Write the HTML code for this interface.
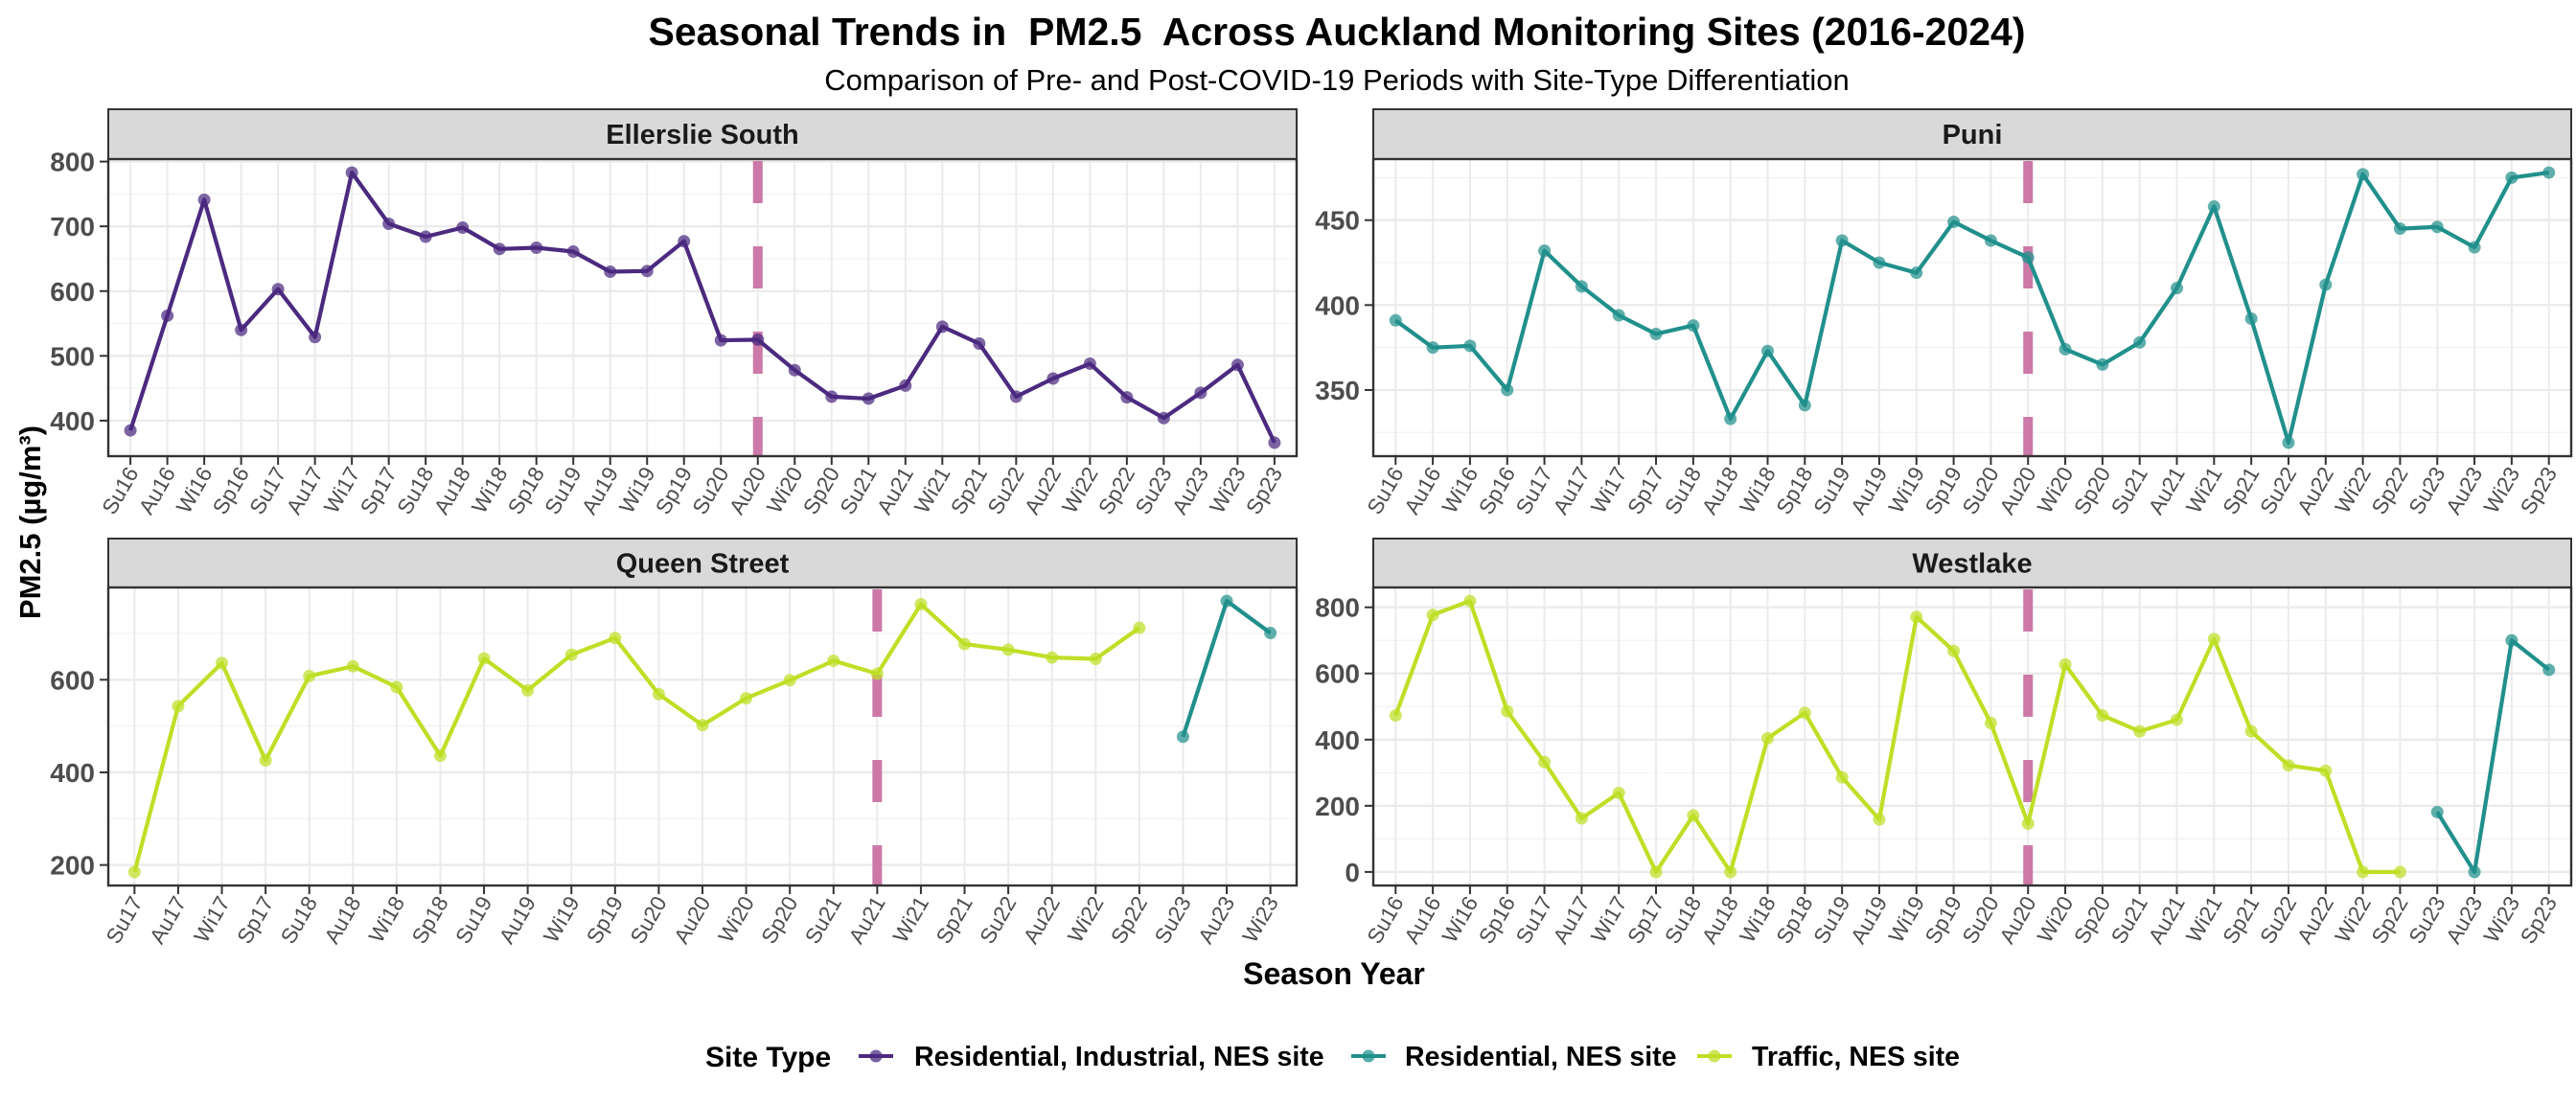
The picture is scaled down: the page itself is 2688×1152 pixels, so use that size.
<!DOCTYPE html>
<html><head><meta charset="utf-8"><style>
html,body{margin:0;padding:0;background:#fff;}
svg{display:block;font-family:"Liberation Sans",Arial,sans-serif;}
</style></head>
<body>
<svg id="chart" width="2688" height="1152" viewBox="0 0 2688 1152" xmlns="http://www.w3.org/2000/svg">
<text x="1395" y="47" text-anchor="middle" font-size="41" font-weight="bold" fill="#000" style="white-space:pre" xml:space="preserve">Seasonal Trends in  PM2.5  Across Auckland Monitoring Sites (2016-2024)</text>
<text x="1395" y="94" text-anchor="middle" font-size="31" fill="#000">Comparison of Pre- and Post-COVID-19 Periods with Site-Type Differentiation</text>
<text transform="translate(42,545) rotate(-90)" text-anchor="middle" font-size="31" font-weight="bold" fill="#000">PM2.5 (µg/m³)</text>
<text x="1392" y="1027" text-anchor="middle" font-size="32" font-weight="bold" fill="#000">Season Year</text>
<g id="legend">
<text x="736" y="1113" font-size="30" font-weight="bold" fill="#000">Site Type</text>
<g>
<line x1="896" y1="1102" x2="932" y2="1102" stroke="#4B2A7F" stroke-width="4"/><circle cx="914" cy="1102" r="6.5" fill="#4B2A7F" opacity="0.75"/>
<text x="954" y="1112" font-size="28.5" font-weight="bold" fill="#000">Residential, Industrial, NES site</text></g>
<g>
<line x1="1410" y1="1102" x2="1446" y2="1102" stroke="#21908C" stroke-width="4"/><circle cx="1428" cy="1102" r="6.5" fill="#21908C" opacity="0.75"/>
<text x="1466" y="1112" font-size="28.5" font-weight="bold" fill="#000">Residential, NES site</text></g>
<g>
<line x1="1771" y1="1102" x2="1807" y2="1102" stroke="#BEDF26" stroke-width="4"/><circle cx="1789" cy="1102" r="6.5" fill="#BEDF26" opacity="0.75"/>
<text x="1828" y="1112" font-size="28.5" font-weight="bold" fill="#000">Traffic, NES site</text></g>
</g>
</svg>
<script>
const seasonsFull = ["Su16","Au16","Wi16","Sp16","Su17","Au17","Wi17","Sp17","Su18","Au18","Wi18","Sp18","Su19","Au19","Wi19","Sp19","Su20","Au20","Wi20","Sp20","Su21","Au21","Wi21","Sp21","Su22","Au22","Wi22","Sp22","Su23","Au23","Wi23","Sp23"];
const seasonsQueen = ["Su17","Au17","Wi17","Sp17","Su18","Au18","Wi18","Sp18","Su19","Au19","Wi19","Sp19","Su20","Au20","Wi20","Sp20","Su21","Au21","Wi21","Sp21","Su22","Au22","Wi22","Sp22","Su23","Au23","Wi23"];
const ellerslieValues = [385,562,741,540,603,529,783,704,684,698,665,667,661,630,631,677,524,525,478,437,434,454,545,519,437,465,488,436,404,443,486,366];
const puniValues = [391,375,376,350,432,411,394,383,388,333,373,341,438,425,419,449,438,428,374,365,378,410,458,392,319,412,477,445,446,434,475,478];
const queenTrafficValues = [185,543,636,426,608,629,584,436,646,577,654,690,569,502,560,599,641,613,763,677,665,648,645,712,null,null,null];
const queenResidentialValues = [null,null,null,null,null,null,null,null,null,null,null,null,null,null,null,null,null,null,null,null,null,null,null,null,477,770,701];
const westlakeTrafficValues = [473,777,819,486,332,162,239,0,171,0,404,481,286,159,771,668,450,146,627,473,425,460,704,425,322,306,0,0,null,null,null,null];
const westlakeResidentialValues = [null,null,null,null,null,null,null,null,null,null,null,null,null,null,null,null,null,null,null,null,null,null,null,null,null,null,null,null,181,0,700,611];
const ellerslieTicks = [400,500,600,700,800];
const puniTicks = [350,400,450];
const queenTicks = [200,400,600];
const westlakeTicks = [0,200,400,600,800];
const covidMarkers = ["Au20","Au20","Au21","Au20"];

const NS = "http://www.w3.org/2000/svg";
const svg = document.getElementById("chart");
const COL = {ri:"#4B2A7F", r:"#21908C", t:"#BEDF26"};
function mk(tag, attrs, parent){
  const e = document.createElementNS(NS, tag);
  for (const k in attrs) e.setAttribute(k, attrs[k]);
  (parent||svg).appendChild(e);
  return e;
}
function panel(cfg){
  const g = mk("g", {});
  
  
  const L=cfg.x0, R=cfg.x1, T=cfg.top, B=cfg.bottom;
  const all = [];
  cfg.series.forEach(s=>s.values.forEach(v=>{ if(v!==null) all.push(v); }));
  const mn=Math.min(...all), mx=Math.max(...all), pad=(mx-mn)*0.05;
  const lo=mn-pad, hi=mx+pad;
  const n=cfg.cats.length;
  const padX=(R-L)/(n-1+1.2)*0.6;
  const xs=i=>L+padX+i*(R-L-2*padX)/(n-1);
  const ys=v=>B-(v-lo)/(hi-lo)*(B-T);
  const strip = mk("rect",{x:L,y:cfg.stripTop,width:R-L,height:T-cfg.stripTop,fill:"#D9D9D9",stroke:"#333",'stroke-width':2},g);
  
  
  const st = mk("text",{x:(L+R)/2,y:(cfg.stripTop+T)/2+10,'text-anchor':'middle','font-size':29,'font-weight':'bold',fill:'#1A1A1A'},g);
  st.textContent = cfg.title;
  
  
  mk("rect",{x:L,y:T,width:R-L,height:B-T,fill:"#fff"},g);
  const step = cfg.ticks[1]-cfg.ticks[0];
  for (let v=cfg.ticks[0]-step/2; v<=hi; v+=step){ if(v>=lo) mk("line",{x1:L,x2:R,y1:ys(v),y2:ys(v),stroke:"#F2F2F2",'stroke-width':1.2},g); }
  for (let i=0;i<n;i++){ mk("line",{x1:xs(i),x2:xs(i),y1:T,y2:B,stroke:"#EBEBEB",'stroke-width':2},g); }
  cfg.ticks.forEach(v=>{
    mk("line",{x1:L,x2:R,y1:ys(v),y2:ys(v),stroke:"#EBEBEB",'stroke-width':2.4},g);
    mk("line",{x1:L-9,x2:L,y1:ys(v),y2:ys(v),stroke:"#333",'stroke-width':2},g);
    const t=mk("text",{x:L-14,y:ys(v)+10,'text-anchor':'end','font-size':28,'font-weight':'bold',fill:'#4D4D4D'},g);
    t.textContent=v;
    
    
  });
  cfg.cats.forEach((c,i)=>{
    mk("line",{x1:xs(i),x2:xs(i),y1:B,y2:B+9,stroke:"#333",'stroke-width':2},g);
    const t=mk("text",{transform:`translate(${xs(i)+9},${B+17}) rotate(-60)`,'text-anchor':'end','font-size':22.5,fill:'#4D4D4D'},g);
    t.textContent=c;
    
    
  });
  const ci = cfg.cats.indexOf(cfg.covid);
  const vl = mk("line",{x1:xs(ci),x2:xs(ci),y1:T+2,y2:B,stroke:"#CC79A7",'stroke-width':10,'stroke-dasharray':'44 45'},g);
  
  
  cfg.series.forEach(s=>{
    let d="", pen=false;
    s.values.forEach((v,i)=>{
      if(v===null){pen=false;return;}
      d += (pen?"L":"M")+xs(i).toFixed(1)+","+ys(v).toFixed(1);
      pen=true;
    });
    const p=mk("path",{d:d,fill:"none",stroke:s.color,'stroke-width':4.2,'stroke-linejoin':'round'},g);
    
    
    s.values.forEach((v,i)=>{
      if(v===null) return;
      const c=mk("circle",{cx:xs(i),cy:ys(v),r:6.5,fill:s.color,opacity:0.72},g);
      
      
    });
  });
  mk("rect",{x:L,y:T,width:R-L,height:B-T,fill:"none",stroke:"#333",'stroke-width':2.4},g);
}
panel({name:"ellerslie-south",title:"Ellerslie South",x0:113,x1:1353,stripTop:114,top:166,bottom:476,cats:seasonsFull,ticks:ellerslieTicks,covid:covidMarkers[0],
  series:[{key:"residential-industrial",color:COL.ri,values:ellerslieValues}]});
panel({name:"puni",title:"Puni",x0:1433,x1:2683,stripTop:114,top:166,bottom:476,cats:seasonsFull,ticks:puniTicks,covid:covidMarkers[1],
  series:[{key:"residential",color:COL.r,values:puniValues}]});
panel({name:"queen-street",title:"Queen Street",x0:113,x1:1353,stripTop:562,top:613,bottom:924,cats:seasonsQueen,ticks:queenTicks,covid:covidMarkers[2],
  series:[{key:"traffic",color:COL.t,values:queenTrafficValues},{key:"residential",color:COL.r,values:queenResidentialValues}]});
panel({name:"westlake",title:"Westlake",x0:1433,x1:2683,stripTop:562,top:613,bottom:924,cats:seasonsFull,ticks:westlakeTicks,covid:covidMarkers[3],
  series:[{key:"traffic",color:COL.t,values:westlakeTrafficValues},{key:"residential",color:COL.r,values:westlakeResidentialValues}]});
</script>
</body></html>
